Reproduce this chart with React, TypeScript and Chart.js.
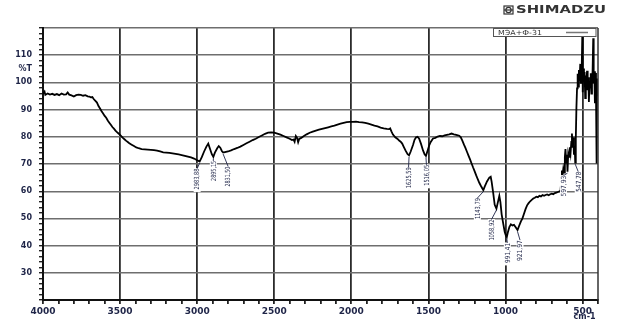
import React, { useEffect, useRef } from "react";
import { Chart, registerables } from "chart.js";

Chart.register(...registerables);

// ---- data ----
const WAVENUMBER: number[] = [
  4000, 3990, 3985, 3970, 3955, 3940, 3925, 3910, 3895, 3880, 3865, 3850, 3840, 3830, 3815, 3800,
  3785, 3770, 3755, 3740, 3725, 3710, 3700, 3690, 3680, 3670, 3660, 3650, 3640, 3630, 3620, 3610,
  3600, 3590, 3580, 3570, 3560, 3550, 3540, 3530, 3520, 3510, 3500, 3490, 3480, 3470, 3460, 3450,
  3440, 3425, 3410, 3395, 3380, 3360, 3340, 3320, 3300, 3280, 3260, 3240, 3220, 3200, 3180, 3160,
  3140, 3120, 3100, 3080, 3060, 3040, 3020, 3000, 2983.88, 2970, 2955, 2940, 2928, 2918, 2905,
  2895.15, 2885, 2870, 2860, 2850, 2840, 2831.5, 2820, 2800, 2780, 2760, 2740, 2720, 2700, 2680,
  2660, 2640, 2620, 2600, 2580, 2560, 2540, 2520, 2500, 2480, 2460, 2440, 2420, 2400, 2385, 2375,
  2368, 2360, 2352, 2345, 2338, 2325, 2310, 2290, 2270, 2250, 2230, 2210, 2190, 2170, 2150, 2130,
  2110, 2090, 2070, 2050, 2030, 2010, 1990, 1970, 1950, 1930, 1910, 1890, 1870, 1850, 1830, 1810,
  1790, 1770, 1755, 1748, 1740, 1730, 1715, 1700, 1690, 1680, 1670, 1660, 1648, 1635, 1625.59,
  1615, 1600, 1590, 1580, 1570, 1560, 1548, 1535, 1525, 1516.05, 1505, 1495, 1485, 1470, 1455,
  1440, 1425, 1410, 1395, 1380, 1365, 1350, 1335, 1320, 1300, 1290, 1280, 1270, 1260, 1250, 1240,
  1230, 1220, 1210, 1200, 1190, 1180, 1170, 1160, 1150, 1143.79, 1135, 1120, 1105, 1096, 1090,
  1080, 1070, 1058.92, 1050, 1040, 1033, 1025, 1015, 1005, 997, 991.41, 985, 975, 965, 955, 945,
  935, 921.97, 912, 900, 890, 880, 870, 860, 850, 840, 830, 820, 810, 800, 790, 780, 770, 760, 750,
  740, 730, 720, 710, 700, 690, 680, 670, 660, 650, 643, 638, 634, 630, 625, 620, 615, 611, 606,
  602, 597.93, 593, 588, 583, 578, 573, 569, 565, 560, 556, 551, 547.78, 544, 540, 536, 532, 528,
  524, 520, 515, 511, 506, 502, 499, 495, 491, 487, 483, 479, 475, 471, 467, 463, 459, 455, 451,
  447, 443, 439, 435, 431, 428, 424, 420, 417, 413, 409, 406, 403, 400,
];

const TRANSMITTANCE: number[] = [
  95.8, 96.6, 95.4, 95.9, 95.5, 95.8, 95.4, 95.7, 95.3, 95.9, 95.5, 95.6, 96.3, 95.5, 95.2, 94.8,
  95.3, 95.5, 95.4, 95.1, 95.3, 94.9, 94.8, 94.5, 94.6, 93.8, 93.2, 92.6, 91.3, 90.4, 89.4, 88.6,
  87.7, 87.0, 86.0, 85.2, 84.4, 83.6, 83.0, 82.3, 81.7, 81.2, 80.7, 80.1, 79.5, 79.0, 78.5, 78.1,
  77.6, 77.1, 76.6, 76.1, 75.8, 75.5, 75.4, 75.3, 75.2, 75.1, 74.9, 74.6, 74.3, 74.2, 74.1, 73.9,
  73.7, 73.5, 73.3, 73.0, 72.7, 72.4, 72.0, 71.4, 70.9, 72.5, 74.6, 76.4, 77.5, 75.8, 73.6,
  72.6, 74.2, 75.8, 76.6, 76.0, 74.8, 74.2, 74.4, 74.6, 75.0, 75.5, 75.9, 76.4, 77.0, 77.6,
  78.2, 78.8, 79.3, 79.9, 80.5, 81.1, 81.5, 81.6, 81.5, 81.2, 80.8, 80.3, 79.8, 79.3, 78.8, 79.0,
  78.2, 80.3, 79.6, 78.0, 79.2, 79.6, 80.2, 80.9, 81.5, 81.9, 82.3, 82.6, 82.9, 83.2, 83.5, 83.8,
  84.1, 84.5, 84.8, 85.1, 85.4, 85.5, 85.5, 85.6, 85.4, 85.3, 85.1, 84.8, 84.5, 84.1, 83.8, 83.4,
  83.1, 82.9, 82.8, 83.1, 82.0, 80.8, 79.8, 79.2, 78.6, 78.2, 77.5, 76.3, 74.9, 73.6, 73.2,
  74.6, 77.0, 78.9, 79.8, 80.0, 79.3, 77.4, 75.0, 73.6, 73.0, 75.0, 76.8, 78.1, 79.4, 79.6,
  80.1, 80.3, 80.2, 80.5, 80.7, 80.9, 81.2, 80.9, 80.7, 80.4, 79.8, 78.6, 77.2, 75.9, 74.5, 73.1,
  71.7, 70.2, 68.7, 67.3, 65.8, 64.4, 63.1, 62.0, 61.0, 60.4, 61.7, 63.6, 65.0, 65.3, 63.5,
  59.5, 55.0, 53.6, 55.8, 58.3, 56.0, 51.5, 48.2, 45.0, 43.6, 43.2, 44.8, 46.8, 47.8, 47.4, 47.6,
  46.8, 45.7, 47.2, 48.9, 50.0, 51.7, 53.4, 54.8, 55.6, 56.3, 56.8, 57.3, 57.6, 58.0, 57.8, 58.3,
  58.1, 58.6, 58.3, 58.6, 58.8, 58.5, 58.9, 59.1, 58.9, 59.3, 59.5, 59.7, 59.9, 60.2, 64.0, 67.6,
  66.0, 68.3, 66.8, 72.6, 75.5, 70.5, 73.4, 67.2, 73.9, 72.6, 76.2, 74.1, 78.1, 81.2, 76.0, 79.8,
  73.4, 76.7, 70.5, 79.4, 90.7, 97.8, 103.2, 98.5, 104.6, 100.4, 106.8, 99.5, 103.9, 116.8, 96.4,
  105.1, 100.3, 103.8, 94.2, 102.5, 99.6, 104.3, 97.1, 101.9, 92.8, 100.6, 98.2, 103.4, 95.9,
  100.8, 104.2, 116.2, 99.6, 104.1, 92.3, 103.5, 95.8, 70.2, 101.4, 98.0, 95.0,
];

const X_TICK_LABELS: number[] = [4000, 3500, 3000, 2500, 2000, 1500, 1000, 500];
const Y_TICK_LABELS: number[] = [30, 40, 50, 60, 70, 80, 90, 100, 110];

const PEAK_WAVENUMBERS: number[] = [
  2983.88, 2895.15, 2831.5, 1625.59, 1516.05, 1143.79, 1058.92, 991.41, 921.97, 597.93, 547.78,
];
const PEAK_LABELS: string[] = [
  "2983,88", "2895,15", "2831,50", "1625,59", "1516,05", "1143,79", "1058,92", "991,41",
  "921,97", "597,93", "547,78",
];

const SERIES_NAME = "МЭА+Ф-31";
const Y_UNIT = "%T";
const X_UNIT = "cm-1";
const BRAND = "SHIMADZU";

// ---- styling (label placement relative to its peak: dx, gap below peak, text length) ----
const LABEL_PLACEMENT: [number, number, number][] = [
  [-2.5, 7, 21],
  [0, 4, 20],
  [5, 14, 20],
  [-0.5, 12, 21],
  [0.5, 9, 21],
  [-6, 8, 21],
  [-5, 11, 21],
  [0.5, 6, 20],
  [2.5, 10, 21],
  [-4, 4, 21],
  [3, 9, 20],
];

const TEXT_COLOR = "#1e2447";
const FONT = '"DejaVu Sans", "Liberation Sans", sans-serif';

function fitText(
  ctx: CanvasRenderingContext2D,
  text: string,
  x: number,
  y: number,
  targetW: number
) {
  const w = ctx.measureText(text).width;
  ctx.save();
  ctx.translate(x, y);
  ctx.scale(targetW / w, 1);
  ctx.fillText(text, 0, 0);
  ctx.restore();
}

const overlayPlugin = {
  id: "irOverlay",
  afterDraw(chart: any) {
    const ctx: CanvasRenderingContext2D = chart.ctx;
    const { left, right, top, bottom } = chart.chartArea;
    const xs = chart.scales.x;
    const ys = chart.scales.y;

    ctx.save();
    // right frame line
    ctx.strokeStyle = "#333";
    ctx.lineWidth = 1.5;
    ctx.beginPath();
    ctx.moveTo(right, top);
    ctx.lineTo(right, bottom);
    ctx.stroke();

    // peak labels
    PEAK_WAVENUMBERS.forEach((wn, i) => {
      const idx = WAVENUMBER.indexOf(wn);
      const px = xs.getPixelForValue(wn);
      const py = ys.getPixelForValue(TRANSMITTANCE[idx]);
      const [dx, gap, len] = LABEL_PLACEMENT[i];
      const cx = px + dx;
      const topY = py + gap;
      const botY = topY + len;
      ctx.fillStyle = "#ffffff";
      ctx.fillRect(cx - 3.5, topY - 0.5, 7, len + 3);
      ctx.strokeStyle = TEXT_COLOR;
      ctx.lineWidth = 0.9;
      ctx.beginPath();
      ctx.moveTo(px, py + 1.5);
      ctx.lineTo(cx, topY);
      ctx.stroke();
      ctx.save();
      ctx.translate(cx, botY);
      ctx.rotate(-Math.PI / 2);
      ctx.font = `7px ${FONT}`;
      ctx.textBaseline = "middle";
      ctx.textAlign = "left";
      ctx.fillStyle = TEXT_COLOR;
      const w = ctx.measureText(PEAK_LABELS[i]).width;
      ctx.scale(len / w, 1);
      ctx.fillText(PEAK_LABELS[i], 0, 0.5);
      ctx.restore();
    });

    // axis unit labels
    ctx.fillStyle = TEXT_COLOR;
    ctx.font = `bold 8px ${FONT}`;
    ctx.textAlign = "right";
    ctx.textBaseline = "middle";
    ctx.fillText(Y_UNIT, 32, ys.getPixelForValue(105));
    ctx.textAlign = "center";
    ctx.font = `bold 8px ${FONT}`;
    ctx.fillText(X_UNIT, xs.getPixelForValue(500) + 2, 317);

    // legend box
    const bx0 = 493.5, bx1 = 596, by0 = top + 0.5, by1 = top + 8.5;
    ctx.fillStyle = "#ffffff";
    ctx.fillRect(bx0, by0, bx1 - bx0, by1 - by0);
    ctx.strokeStyle = "#555";
    ctx.lineWidth = 1;
    ctx.strokeRect(bx0, by0, bx1 - bx0, by1 - by0);
    ctx.fillStyle = "#333";
    ctx.font = `7px ${FONT}`;
    ctx.textAlign = "left";
    ctx.textBaseline = "middle";
    fitText(ctx, SERIES_NAME, 498, (by0 + by1) / 2 + 0.5, 44);
    ctx.strokeStyle = "#777";
    ctx.lineWidth = 1.5;
    ctx.beginPath();
    ctx.moveTo(566, (by0 + by1) / 2);
    ctx.lineTo(588, (by0 + by1) / 2);
    ctx.stroke();

    // brand logo
    ctx.strokeStyle = "#333";
    ctx.lineWidth = 1.2;
    ctx.strokeRect(504, 6, 9, 8);
    ctx.beginPath();
    ctx.arc(508.5, 10, 2.6, 0, Math.PI * 2);
    ctx.stroke();
    ctx.beginPath();
    ctx.moveTo(504, 10);
    ctx.lineTo(513, 10);
    ctx.stroke();
    ctx.fillStyle = "#333";
    ctx.font = `bold 10px ${FONT}`;
    ctx.textBaseline = "middle";
    fitText(ctx, BRAND, 516, 10.5, 90);

    ctx.restore();
  },
};

export default function App() {
  const canvasRef = useRef<HTMLCanvasElement | null>(null);

  useEffect(() => {
    document.body.style.margin = "0";
    const canvas = canvasRef.current;
    if (!canvas) return;
    const points = WAVENUMBER.map((x, i) => ({ x, y: TRANSMITTANCE[i] }));

    const chart = new Chart(canvas, {
      type: "line",
      data: {
        datasets: [
          {
            label: SERIES_NAME,
            data: points,
            borderColor: "#000000",
            borderWidth: 1.8,
            pointRadius: 0,
            tension: 0,
            fill: false,
          },
        ],
      },
      options: {
        responsive: false,
        animation: false,
        devicePixelRatio: 1,
        layout: { padding: { top: 28, right: 29, left: 0, bottom: 0 } },
        plugins: {
          legend: { display: false },
          tooltip: { enabled: false },
          title: { display: false },
        },
        scales: {
          x: {
            type: "linear",
            reverse: true,
            min: 400,
            max: 4000,
            afterFit: (s: any) => {
              s.height = 25;
            },
            border: { display: true, color: "#111", width: 2 },
            grid: {
              color: (c: any) =>
                c.tick && Math.round(c.tick.value) % 500 === 0 ? "#2b2b2b" : "rgba(0,0,0,0)",
              lineWidth: 1.8,
              tickColor: "#222",
              tickLength: 4,
              drawTicks: true,
            },
            ticks: {
              stepSize: 100,
              autoSkip: false,
              maxRotation: 0,
              padding: 2,
              color: TEXT_COLOR,
              font: { family: "DejaVu Sans", weight: "bold", size: 9 },
              callback: (v: any) => (X_TICK_LABELS.includes(Math.round(v)) ? String(Math.round(v)) : ""),
            },
          },
          y: {
            type: "linear",
            min: 20,
            max: 120,
            afterFit: (s: any) => {
              s.width = 43;
            },
            border: { display: true, color: "#111", width: 2 },
            grid: {
              color: (c: any) => {
                const v = c.tick ? Math.round(c.tick.value) : 0;
                return v % 10 === 0 && v > 20 ? "#6e6e6e" : "rgba(0,0,0,0)";
              },
              lineWidth: 1.4,
              tickColor: "#222",
              tickLength: 4,
              drawTicks: true,
            },
            ticks: {
              stepSize: 2,
              autoSkip: false,
              padding: 7,
              color: TEXT_COLOR,
              font: { family: "DejaVu Sans", weight: "bold", size: 8 },
              callback: (v: any) => (Y_TICK_LABELS.includes(Math.round(v)) ? String(Math.round(v)) : ""),
            },
          },
        },
      },
      plugins: [overlayPlugin],
    });

    return () => chart.destroy();
  }, []);

  return (
    <div style={{ width: 627, height: 325, position: "relative", background: "#fff" }}>
      <canvas ref={canvasRef} width={627} height={325} style={{ width: 627, height: 325, display: "block" }} />
    </div>
  );
}
